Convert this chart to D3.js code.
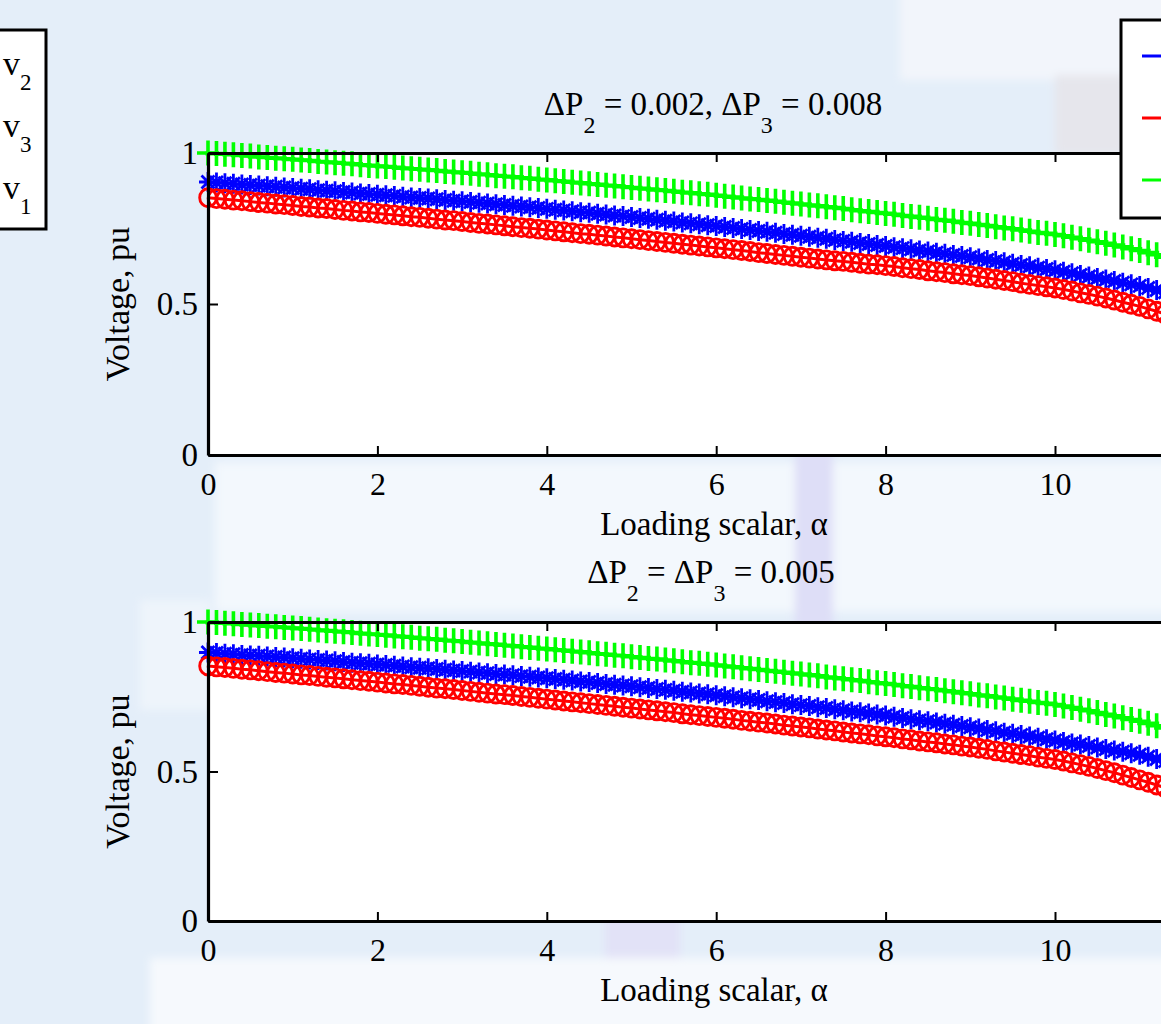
<!DOCTYPE html>
<html>
<head>
<meta charset="utf-8">
<script src="https://cdn.jsdelivr.net/npm/d3@7"></script>
<style>
  html, body { margin: 0; padding: 0; background: #e4eef9; }
  svg { display: block; }
  text { font-family: "Liberation Serif", "Times New Roman", serif; fill: #000; }
</style>
</head>
<body>
<svg id="chart" width="1161" height="1024"></svg>
<script>
// Loading scalar samples (step 0.1)
const alpha = d3.range(0, 116).map(i => +(i * 0.1).toFixed(1));

const xTicks = [0, 2, 4, 6, 8, 10];
const yTicks = [0, 0.5, 1];

// Panel 1: dP2 = 0.002, dP3 = 0.008
const v1Top = [
  1.000,0.998,0.996,0.994,0.992,0.990,0.987,0.985,0.983,0.981,
  0.979,0.977,0.975,0.972,0.970,0.968,0.966,0.964,0.961,0.959,
  0.957,0.955,0.953,0.950,0.948,0.946,0.944,0.942,0.939,0.937,
  0.935,0.933,0.930,0.928,0.925,0.923,0.921,0.918,0.916,0.913,
  0.911,0.908,0.906,0.903,0.901,0.898,0.896,0.893,0.891,0.888,
  0.886,0.883,0.881,0.878,0.876,0.873,0.870,0.868,0.865,0.863,
  0.860,0.857,0.854,0.851,0.848,0.846,0.843,0.840,0.837,0.834,
  0.831,0.828,0.825,0.822,0.819,0.816,0.812,0.809,0.806,0.803,
  0.800,0.797,0.793,0.790,0.787,0.784,0.780,0.777,0.774,0.770,
  0.767,0.763,0.760,0.756,0.752,0.749,0.745,0.741,0.737,0.734,
  0.730,0.726,0.721,0.716,0.711,0.706,0.701,0.695,0.689,0.683,
  0.677,0.670,0.663,0.655,0.647,0.639
];
const v2Top = [
  0.904,0.902,0.900,0.898,0.896,0.894,0.892,0.890,0.888,0.886,
  0.884,0.882,0.880,0.877,0.875,0.873,0.871,0.869,0.866,0.864,
  0.862,0.860,0.858,0.855,0.853,0.851,0.849,0.847,0.844,0.842,
  0.840,0.838,0.835,0.833,0.830,0.828,0.825,0.823,0.820,0.818,
  0.815,0.812,0.810,0.807,0.804,0.802,0.799,0.796,0.793,0.791,
  0.788,0.785,0.782,0.779,0.776,0.773,0.770,0.767,0.764,0.761,
  0.758,0.755,0.752,0.748,0.745,0.742,0.739,0.736,0.732,0.729,
  0.726,0.723,0.719,0.716,0.712,0.709,0.706,0.702,0.699,0.695,
  0.692,0.688,0.685,0.681,0.677,0.674,0.670,0.666,0.662,0.659,
  0.655,0.651,0.646,0.642,0.638,0.633,0.629,0.625,0.620,0.616,
  0.612,0.607,0.602,0.596,0.591,0.586,0.581,0.576,0.570,0.565,
  0.560,0.553,0.546,0.539,0.532,0.525
];
const v3Top = [
  0.852,0.849,0.847,0.844,0.842,0.839,0.836,0.834,0.831,0.829,
  0.826,0.823,0.821,0.818,0.816,0.813,0.810,0.808,0.805,0.803,
  0.800,0.797,0.795,0.792,0.789,0.787,0.784,0.781,0.778,0.776,
  0.773,0.770,0.767,0.765,0.762,0.759,0.756,0.753,0.751,0.748,
  0.745,0.742,0.739,0.736,0.733,0.731,0.728,0.725,0.722,0.719,
  0.716,0.713,0.710,0.707,0.704,0.701,0.698,0.695,0.692,0.689,
  0.686,0.683,0.680,0.677,0.674,0.670,0.667,0.664,0.661,0.658,
  0.655,0.652,0.649,0.646,0.643,0.641,0.638,0.635,0.632,0.630,
  0.627,0.624,0.620,0.617,0.614,0.610,0.607,0.604,0.600,0.597,
  0.594,0.590,0.586,0.582,0.578,0.574,0.569,0.565,0.561,0.557,
  0.553,0.548,0.543,0.537,0.532,0.526,0.520,0.513,0.506,0.499,
  0.492,0.484,0.476,0.467,0.458,0.449
];

// Panel 2: dP2 = dP3 = 0.005
const v1Bot = [
  1.000,0.998,0.996,0.994,0.992,0.990,0.988,0.986,0.984,0.982,
  0.980,0.978,0.976,0.973,0.971,0.969,0.967,0.965,0.962,0.960,
  0.958,0.956,0.953,0.951,0.949,0.946,0.944,0.942,0.939,0.937,
  0.935,0.932,0.930,0.927,0.925,0.922,0.920,0.917,0.915,0.912,
  0.910,0.907,0.905,0.902,0.900,0.897,0.894,0.892,0.889,0.887,
  0.884,0.881,0.878,0.876,0.873,0.870,0.867,0.864,0.862,0.859,
  0.856,0.853,0.850,0.847,0.844,0.841,0.838,0.835,0.832,0.829,
  0.826,0.823,0.820,0.816,0.813,0.810,0.807,0.804,0.800,0.797,
  0.794,0.791,0.787,0.784,0.780,0.777,0.774,0.770,0.767,0.763,
  0.760,0.756,0.753,0.749,0.746,0.742,0.738,0.735,0.731,0.728,
  0.724,0.719,0.714,0.708,0.703,0.697,0.691,0.686,0.680,0.674,
  0.668,0.661,0.653,0.646,0.638,0.630
];
const v2Bot = [
  0.898,0.896,0.894,0.892,0.890,0.888,0.887,0.885,0.883,0.881,
  0.879,0.877,0.875,0.873,0.871,0.869,0.866,0.864,0.862,0.860,
  0.858,0.856,0.854,0.851,0.849,0.847,0.845,0.843,0.840,0.838,
  0.836,0.834,0.831,0.829,0.826,0.824,0.822,0.819,0.817,0.814,
  0.812,0.809,0.807,0.804,0.801,0.799,0.796,0.793,0.790,0.788,
  0.785,0.782,0.779,0.776,0.773,0.770,0.767,0.764,0.761,0.758,
  0.755,0.752,0.748,0.745,0.742,0.739,0.735,0.732,0.729,0.725,
  0.722,0.719,0.715,0.712,0.708,0.705,0.701,0.698,0.694,0.691,
  0.687,0.683,0.679,0.675,0.671,0.668,0.664,0.660,0.656,0.652,
  0.648,0.644,0.639,0.635,0.630,0.626,0.622,0.617,0.613,0.608,
  0.604,0.599,0.594,0.590,0.585,0.580,0.575,0.570,0.566,0.561,
  0.556,0.549,0.542,0.535,0.527,0.520
];
const v3Bot = [
  0.853,0.850,0.848,0.845,0.842,0.840,0.837,0.834,0.831,0.829,
  0.826,0.823,0.821,0.818,0.815,0.813,0.810,0.807,0.804,0.802,
  0.799,0.796,0.793,0.791,0.788,0.785,0.782,0.779,0.777,0.774,
  0.771,0.768,0.765,0.762,0.759,0.757,0.754,0.751,0.748,0.745,
  0.742,0.739,0.736,0.733,0.730,0.727,0.724,0.721,0.718,0.715,
  0.712,0.709,0.706,0.703,0.700,0.697,0.693,0.690,0.687,0.684,
  0.681,0.678,0.675,0.671,0.668,0.665,0.662,0.659,0.655,0.652,
  0.649,0.646,0.642,0.639,0.636,0.632,0.629,0.626,0.623,0.619,
  0.616,0.613,0.609,0.606,0.602,0.599,0.596,0.592,0.589,0.585,
  0.582,0.578,0.574,0.569,0.565,0.561,0.557,0.553,0.548,0.544,
  0.540,0.535,0.529,0.523,0.517,0.510,0.503,0.496,0.488,0.480,
  0.472,0.464,0.455,0.446,0.437,0.428
];

const seriesNames = ["v2", "v3", "v1"];
const seriesColors = { v1: "#00ff00", v2: "#0000ff", v3: "#ff0000" };

const svg = d3.select("#chart");
const W = 1161, H = 1024;

// soft slide backdrop
const defs = svg.append("defs");
defs.append("filter").attr("id", "soften")
  .attr("x", "-20%").attr("y", "-20%").attr("width", "140%").attr("height", "140%")
  .append("feGaussianBlur").attr("stdDeviation", 4);
const backdrop = svg.append("g").attr("filter", "url(#soften)");
[
  { x: 900, y: -20, w: 280, h: 100, c: "#f2f5fb" },
  { x: 1055, y: 75, w: 70, h: 80, c: "#e6e6ec" },
  { x: 215, y: 462, w: 960, h: 150, c: "#f3f8fd" },
  { x: 795, y: 445, w: 38, h: 185, c: "#dedef7" },
  { x: 605, y: 880, w: 75, h: 160, c: "#e2e2f7" },
  { x: 150, y: 958, w: 1020, h: 80, c: "#f6f9fd" },
  { x: 140, y: 600, w: 70, h: 110, c: "#eef4fb" }
].forEach(b => backdrop.append("rect")
  .attr("x", b.x).attr("y", b.y).attr("width", b.w).attr("height", b.h).attr("fill", b.c));

const x = d3.scaleLinear().domain([0, 12]).range([208, 1224.4]);

const panels = [
  { top: 153, bottom: 455, data: { v1: v1Top, v2: v2Top, v3: v3Top },
    title: ["ΔP", "2", " = 0.002, ΔP", "3", " = 0.008"], titleY: 115, titleX: 713 },
  { top: 622, bottom: 921, data: { v1: v1Bot, v2: v2Bot, v3: v3Bot },
    title: ["ΔP", "2", " = ΔP", "3", " = 0.005"], titleY: 583, titleX: 711 }
];

function subText(sel, parts, mainSize, subSize, subDrop) {
  parts.forEach((p, i) => {
    const isSub = i % 2 === 1;
    sel.append("tspan")
      .attr("font-size", isSub ? subSize : mainSize)
      .attr("dy", isSub ? subDrop : (i > 0 ? -subDrop : 0))
      .text(p);
  });
}

// marker glyphs: plus for v1, asterisk for v2, circle for v3
const markers = {
  v1: "M-11,0H11M0,-12.5V12.5",
  v2: "M0,-10V10M-9,0H9M-6.5,-6.5L6.5,6.5M-6.5,6.5L6.5,-6.5"
};

panels.forEach(P => {
  const y = d3.scaleLinear().domain([0, 1]).range([P.bottom, P.top]);
  const g = svg.append("g");

  // white axes area
  g.append("rect")
    .attr("x", x(0)).attr("y", y(1))
    .attr("width", W - x(0) + 10).attr("height", y(0) - y(1))
    .attr("fill", "#fff");

  // series drawn blue, red, green
  ["v2", "v3", "v1"].forEach(k => {
    const vals = P.data[k];
    const pts = alpha.map((a, i) => [a, vals[i]]);
    const col = seriesColors[k];
    g.append("path")
      .attr("d", d3.line().x(d => x(d[0])).y(d => y(d[1]))(pts))
      .attr("fill", "none").attr("stroke", col).attr("stroke-width", 3);
    const mg = g.append("g");
    if (k === "v3") {
      mg.selectAll("ellipse").data(pts).join("ellipse")
        .attr("cx", d => x(d[0])).attr("cy", d => y(d[1]))
        .attr("rx", 8.3).attr("ry", 9)
        .attr("fill", "none").attr("stroke", col).attr("stroke-width", 2.9);
    } else {
      mg.selectAll("path").data(pts).join("path")
        .attr("transform", d => `translate(${x(d[0])},${y(d[1])})`)
        .attr("d", markers[k])
        .attr("fill", "none").attr("stroke", col)
        .attr("stroke-width", k === "v1" ? 3.6 : 2.8);
    }
  });

  // axes
  const ax = g.append("g").attr("transform", `translate(0,${P.bottom})`)
    .call(d3.axisBottom(x).tickValues(xTicks).tickSizeInner(-9).tickSizeOuter(0).tickPadding(19));
  ax.selectAll("text").attr("font-size", 32).attr("dy", "0.66em");
  const axT = g.append("g").attr("transform", `translate(0,${P.top})`)
    .call(d3.axisTop(x).tickValues(xTicks).tickSizeInner(-9).tickSizeOuter(0).tickFormat(""));
  const ay = g.append("g").attr("transform", `translate(${x(0)},0)`)
    .call(d3.axisLeft(y).tickValues(yTicks).tickSizeInner(-10).tickSizeOuter(0)
      .tickPadding(10).tickFormat(d => d === 0.5 ? "0.5" : d3.format("d")(d)));
  ay.selectAll("text").attr("font-size", 33);
  [ax, axT, ay].forEach(a => {
    a.select(".domain").attr("stroke", "#000").attr("stroke-width", 3.2);
    a.selectAll(".tick line").attr("stroke", "#000").attr("stroke-width", 2);
    a.selectAll("text").attr("font-family", "Liberation Serif").attr("fill", "#000");
  });

  // title
  const t = svg.append("text").attr("x", P.titleX).attr("y", P.titleY)
    .attr("text-anchor", "middle").attr("font-size", 33);
  subText(t, P.title, 33, 24, 18);

  // axis labels
  svg.append("text").attr("x", 714).attr("y", P.bottom + 80)
    .attr("text-anchor", "middle").attr("font-size", 33).text("Loading scalar, α");
  svg.append("text")
    .attr("transform", `translate(129,${(P.top + P.bottom) / 2}) rotate(-90)`)
    .attr("text-anchor", "middle").attr("font-size", 34).text("Voltage, pu");
});

// legend: labels (left) and line keys (right)
const legL = svg.append("g");
legL.append("rect").attr("x", -3).attr("y", 30).attr("width", 49).attr("height", 199)
  .attr("fill", "#fff").attr("stroke", "#000").attr("stroke-width", 3);
const legY = d3.scalePoint().domain(seriesNames).range([75, 199]);
seriesNames.forEach(n => {
  const tx = legL.append("text").attr("x", 3).attr("y", legY(n));
  subText(tx, ["v", n.slice(1)], 34, 23, 15);
});

const legR = svg.append("g");
legR.append("rect").attr("x", 1121).attr("y", 20).attr("width", 80).attr("height", 198)
  .attr("fill", "#fff").attr("stroke", "#000").attr("stroke-width", 3);
const legLineY = d3.scalePoint().domain(seriesNames).range([56, 180]);
seriesNames.forEach(n => {
  legR.append("line").attr("x1", 1142).attr("x2", 1190)
    .attr("y1", legLineY(n)).attr("y2", legLineY(n))
    .attr("stroke", seriesColors[n]).attr("stroke-width", 3);
});
</script>
</body>
</html>
